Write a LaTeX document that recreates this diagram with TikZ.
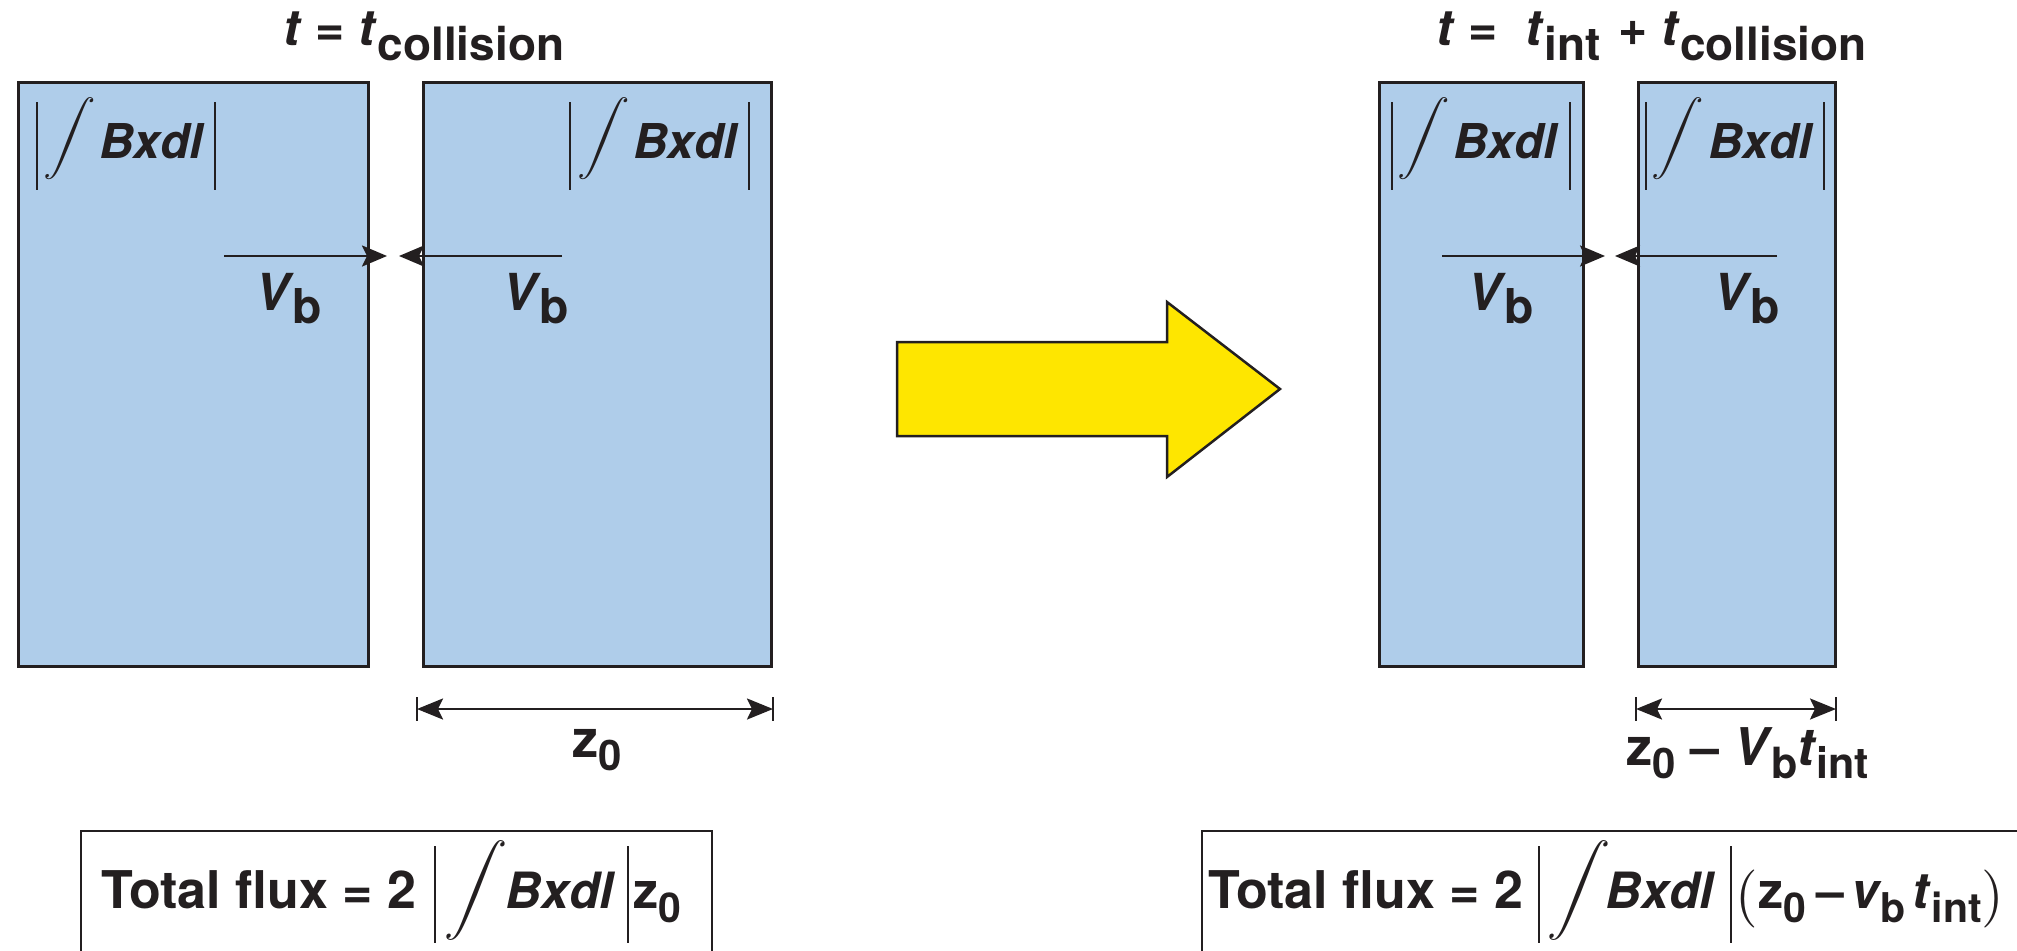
\documentclass[tikz,border=0pt]{standalone}
\usepackage[no-math]{fontspec}
\setmainfont{TeX Gyre Heros}
\usepackage{graphicx}
\usetikzlibrary{arrows.meta}
\definecolor{blk}{RGB}{35,31,32}
\definecolor{boxblue}{RGB}{175,205,234}
\definecolor{yel}{RGB}{254,230,0}
\newcommand\fs[1]{\fontsize{#1}{#1}\selectfont}
\newcommand\lowr[3]{\raisebox{-#1}{\fs{#2}#3}}
\newcommand\bigint[1]{\scalebox{#1}{\fs{10}$\displaystyle\int$}}
\newcommand\bigparen[1]{\raisebox{-5pt}{\scalebox{5.8}{\fs{10}\normalfont$#1$}}}
\newcommand\vb[1]{\textit{V}\kern-2pt\lowr{13pt}{#1}{b}}
\begin{document}
\begin{tikzpicture}[x=1pt,y=-1pt,
  panel/.style={draw=blk, line width=2.8pt, fill=boxblue, inner sep=0pt, anchor=north west},
  lbl/.style={inner sep=0pt, anchor=base west, font=\bfseries, text=blk},
  intg/.style={inner sep=0pt, text=blk, anchor=center, xslant=0.2, transform shape},
  bar/.style={draw=blk, line width=1.8pt},
  vel/.style={draw=blk, line width=2.5pt, -{Stealth[length=25pt,width=21pt,inset=5pt]}},
  dimline/.style={draw=blk, line width=2.5pt, {Stealth[length=26pt,width=21pt,inset=5pt]}-{Stealth[length=26pt,width=21pt,inset=5pt]}},
  tickline/.style={draw=blk, line width=2.5pt},
  fluxbox/.style={draw=blk, line width=2.5pt}]
\useasboundingbox (0,0) rectangle (2017,950);
\clip (0,0) rectangle (2017,950);

% panels
\node[panel, minimum width=350pt, minimum height=584pt] (A) at (17,81) {};
\node[panel, minimum width=348pt, minimum height=584pt] (B) at (422,81) {};
\node[panel, minimum width=204pt, minimum height=584pt] (C) at (1378,81) {};
\node[panel, minimum width=197pt, minimum height=584pt] (D) at (1637,81) {};

% titles
\node[lbl] (tA) at (283,46) {\fs{50}\textit{t} = \textit{t}\lowr{14pt}{46}{collision}};
\node[lbl] (tB) at (1436,46) {\fs{50}\textit{t} =\hspace{0.55em}\textit{t}\lowr{14pt}{46}{int}\hspace{4pt} + \textit{t}\lowr{14pt}{46}{collision}};

% |int Bxdl| labels
\foreach \n/\ba/\ix/\bx/\bb in {A/37/70/99/215, B/570/604/633/749, C/1392/1424/1453/1570, D/1646/1678/1708/1824}{
  \coordinate (\n b1t) at (\ba,102); \coordinate (\n b1b) at (\ba,190);
  \coordinate (\n b2t) at (\bb,102); \coordinate (\n b2b) at (\bb,190);
  \draw[bar] (\n b1t) -- (\n b1b);
  \draw[bar] (\n b2t) -- (\n b2b);
  \node[intg] (\n int) at (\ix,139) {\bigint{3.7}};
  \node[lbl] (\n bx) at (\bx,158) {\fs{48}\itshape Bxdl};
}

% velocity arrows
\coordinate (As) at (224,256); \coordinate (At) at (387,256);
\coordinate (Bs) at (562,256); \coordinate (Bt) at (399,256);
\coordinate (Cs) at (1442,256); \coordinate (Ct) at (1605,256);
\coordinate (Ds) at (1777,256); \coordinate (Dt) at (1615,256);
\draw[vel] (As) -- (At);
\draw[vel] (Bs) -- (Bt);
\draw[vel] (Cs) -- (Ct);
\draw[vel] (Ds) -- (Dt);

\node[lbl] (vA) at (255,310) {\fs{51}\vb{48}};
\node[lbl] (vB) at (502,310) {\fs{51}\vb{48}};
\node[lbl] (vC) at (1467,310) {\fs{51}\vb{48}};
\node[lbl] (vD) at (1713,310) {\fs{51}\vb{48}};

% dimension lines
\coordinate (d1l) at (417,709); \coordinate (d1r) at (773,709);
\coordinate (d1lt) at (417,697); \coordinate (d1lb) at (417,721);
\coordinate (d1rt) at (773,697); \coordinate (d1rb) at (773,721);
\draw[dimline] (d1l) -- (d1r);
\draw[tickline] (d1lt) -- (d1lb);
\draw[tickline] (d1rt) -- (d1rb);
\node[lbl] (zA) at (572,757) {\fs{52}z\lowr{13pt}{42}{0}};

\coordinate (d2l) at (1636,709); \coordinate (d2r) at (1836,709);
\coordinate (d2lt) at (1636,697); \coordinate (d2lb) at (1636,721);
\coordinate (d2rt) at (1836,697); \coordinate (d2rb) at (1836,721);
\draw[dimline] (d2l) -- (d2r);
\draw[tickline] (d2lt) -- (d2lb);
\draw[tickline] (d2rt) -- (d2rb);
\node[lbl] (zB) at (1626,765) {\fs{52}z\lowr{13pt}{42}{0} -- \vb{43}\textit{t}\lowr{13pt}{43}{int}};

% yellow arrow
\draw[fill=yel, draw=blk, line width=2.5pt, line join=miter]
  (897,342) -- (1167,342) -- (1167,302) -- (1280,389) -- (1167,477) -- (1167,436) -- (897,436) -- cycle;

% flux boxes
\coordinate (fA1) at (81,960); \coordinate (fA2) at (81,831);
\coordinate (fA3) at (712,831); \coordinate (fA4) at (712,960);
\draw[fluxbox] (fA1) -- (fA2) -- (fA3) -- (fA4);
\node[lbl] (fxA) at (101,908) {\fs{52}Total flux = 2};
\coordinate (fAb1t) at (435,846); \coordinate (fAb1b) at (435,943);
\coordinate (fAb2t) at (628,846); \coordinate (fAb2b) at (628,943);
\draw[bar] (fAb1t) -- (fAb1b);
\draw[bar] (fAb2t) -- (fAb2b);
\node[intg] (fiA) at (476,890) {\bigint{4.5}};
\node[lbl] (fbA) at (505,908) {\fs{50}\itshape Bxdl};
\node[lbl] (fzA) at (633,908) {\fs{50}z\lowr{14pt}{41}{0}};

\coordinate (fB1) at (1202,960); \coordinate (fB2) at (1202,831);
\coordinate (fB3) at (2030,831);
\draw[fluxbox] (fB1) -- (fB2) -- (fB3);
\node[lbl] (fxB) at (1208,908) {\fs{52}Total flux = 2};
\coordinate (fBb1t) at (1539,846); \coordinate (fBb1b) at (1539,943);
\coordinate (fBb2t) at (1731,846); \coordinate (fBb2b) at (1731,943);
\draw[bar] (fBb1t) -- (fBb1b);
\draw[bar] (fBb2t) -- (fBb2b);
\node[intg] (fiB) at (1579,890) {\bigint{4.5}};
\node[lbl] (fbB) at (1605,908) {\fs{50}\itshape Bxdl};
\node[lbl] (fzB) at (1735,908) {\fs{50}\bigparen{(}\kern1pt z\lowr{14pt}{41}{0}\hspace{10pt}--\hspace{7pt}\textit{v}\kern-1pt\lowr{14pt}{41}{b}\hspace{7pt}\textit{t}\lowr{14pt}{41}{int}\bigparen{)}};
\end{tikzpicture}
\end{document}
